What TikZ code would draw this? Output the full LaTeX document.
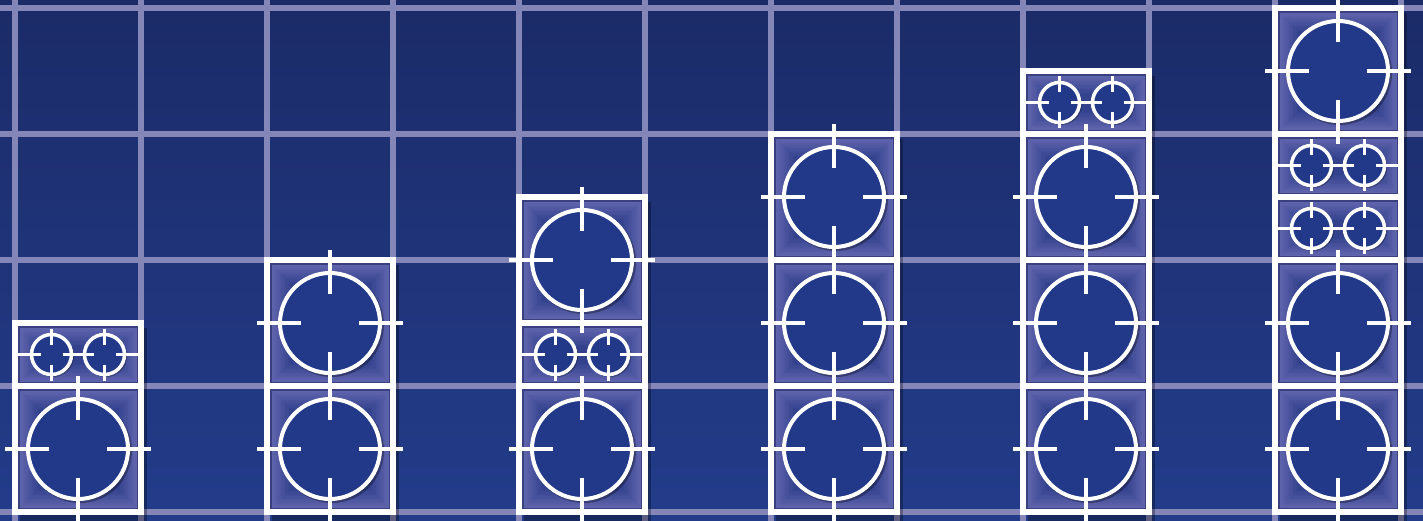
\documentclass[tikz,border=0pt]{standalone}
\usepackage{xcolor}
\usepackage{tikz}
\definecolor{bgTop}{HTML}{1B2B68}
\definecolor{bgBot}{HTML}{233C8A}
\definecolor{gridLav}{HTML}{8486B8}
\definecolor{panEdge}{HTML}{5F64AC}
\definecolor{panMid}{HTML}{33418D}
\definecolor{panShade}{HTML}{3A3F80}
\definecolor{eyeBlue}{HTML}{22398A}
% #1 left, #2 top, #3 height
\newcommand{\modbox}[3]{%
 \fill[panShade] (#1+3,#2+3) rectangle (#1+123,#2+#3-3);%
 \foreach \i [evaluate=\i as \p using int(100-7*\i)] in {0,...,14}
  \fill[panEdge!\p!panMid] (#1+5+1.3*\i,#2+5+1.3*\i) rectangle (#1+122-1.3*\i,#2+#3-4-1.3*\i);%
 \draw[white, line width=5.5] (#1,#2) rectangle (#1+126,#2+#3);}
% #1 centre x, #2 centre y
\newcommand{\bigeye}[2]{%
 \fill[black, opacity=.3] (#1+2,#2+2) circle (52);%
 \draw[white, line width=4, fill=eyeBlue] (#1,#2) circle (50);%
 \foreach \a in {0,90,180,270}
  \draw[white, line width=4] ([shift={(\a:29)}]#1,#2) -- ([shift={(\a:73)}]#1,#2);}
\newcommand{\smalleyes}[2]{%
 \foreach \s in {-1,1}{%
  \fill[black, opacity=.3] (#1+26.5*\s+1.5,#2+1.5) circle (21);%
  \draw[white, line width=3.5, fill=eyeBlue] (#1+26.5*\s,#2) circle (20);%
  \draw[white, line width=3.5] (#1+26.5*\s,#2-26) -- (#1+26.5*\s,#2-10)
   (#1+26.5*\s,#2+10) -- (#1+26.5*\s,#2+26);}%
 \draw[white, line width=3.5] (#1-60,#2) -- (#1-37.5,#2) (#1-15.5,#2) -- (#1+15.5,#2)
  (#1+37.5,#2) -- (#1+60,#2);}
\newcommand{\stackshade}[2]{%
 \fill[black, opacity=.3] (#1+5,#2+5) rectangle (#1+132,521);}
\begin{document}
\begin{tikzpicture}[x=1pt, y=-1pt]
\useasboundingbox (0,0) rectangle (1423,521);
\clip (0,0) rectangle (1423,521);
\shade[top color=bgTop, bottom color=bgBot] (0,0) rectangle (1423,521);
\foreach \gx in {15,141,...,1401}
 \draw[gridLav, line width=5.5] (\gx,0) -- (\gx,521);
\foreach \gy in {8,134,...,512}
 \draw[gridLav, line width=5.5] (0,\gy) -- (1423,\gy);
% stack 1
\stackshade{15}{323}
\modbox{15}{386}{126} \modbox{15}{323}{63}
\bigeye{78}{449} \smalleyes{78}{354.5}
% stack 2
\stackshade{267}{260}
\modbox{267}{386}{126} \modbox{267}{260}{126}
\bigeye{330}{449} \bigeye{330}{323}
% stack 3
\stackshade{519}{197}
\modbox{519}{386}{126} \modbox{519}{323}{63} \modbox{519}{197}{126}
\bigeye{582}{449} \smalleyes{582}{354.5} \bigeye{582}{260}
% stack 4
\stackshade{771}{134}
\modbox{771}{386}{126} \modbox{771}{260}{126} \modbox{771}{134}{126}
\bigeye{834}{449} \bigeye{834}{323} \bigeye{834}{197}
% stack 5
\stackshade{1023}{71}
\modbox{1023}{386}{126} \modbox{1023}{260}{126} \modbox{1023}{134}{126}
\modbox{1023}{71}{63}
\bigeye{1086}{449} \bigeye{1086}{323} \bigeye{1086}{197} \smalleyes{1086}{102.5}
% stack 6
\stackshade{1275}{8}
\modbox{1275}{386}{126} \modbox{1275}{260}{126} \modbox{1275}{197}{63}
\modbox{1275}{134}{63} \modbox{1275}{8}{126}
\bigeye{1338}{449} \bigeye{1338}{323} \smalleyes{1338}{228.5}
\smalleyes{1338}{165.5} \bigeye{1338}{71}
\end{tikzpicture}
\end{document}
